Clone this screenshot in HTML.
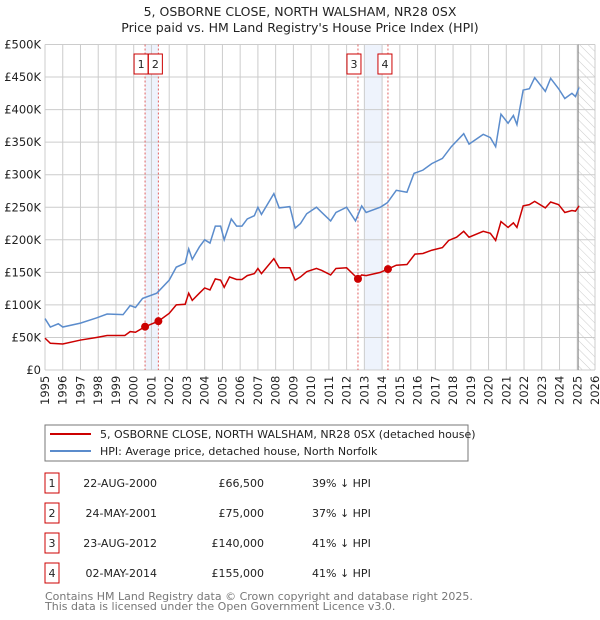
<!DOCTYPE html>
<html><head><meta charset="utf-8"><style>
body{margin:0;background:#fff;}
svg{display:block;font-family:"DejaVu Sans","Liberation Sans",sans-serif;}
</style></head><body>
<svg id="chart" width="600" height="620" viewBox="0 0 600 620">
<defs><pattern id="hatch" width="6" height="6" patternUnits="userSpaceOnUse" patternTransform="rotate(-45)"><line x1="0" y1="0" x2="0" y2="6" stroke="#ccc" stroke-width="1"/></pattern></defs>
<text x="300" y="16" text-anchor="middle" font-size="12.5" fill="#222">5, OSBORNE CLOSE, NORTH WALSHAM, NR28 0SX</text>
<text x="300" y="32" text-anchor="middle" font-size="12.5" fill="#222">Price paid vs. HM Land Registry's House Price Index (HPI)</text>
<g id="plot"></g>
<rect x="45" y="425" width="423" height="36" fill="#fff" stroke="#777"/>
<line x1="50" y1="434" x2="91" y2="434" stroke="#cc0000" stroke-width="2"/>
<text x="100" y="438" font-size="11" fill="#222">5, OSBORNE CLOSE, NORTH WALSHAM, NR28 0SX (detached house)</text>
<line x1="50" y1="451" x2="91" y2="451" stroke="#5b8ccc" stroke-width="2"/>
<text x="100" y="455" font-size="11" fill="#222">HPI: Average price, detached house, North Norfolk</text>
<g id="table" font-size="11" fill="#222"></g>
<text x="45" y="600" font-size="11" fill="#777">Contains HM Land Registry data © Crown copyright and database right 2025.</text>
<text x="45" y="610" font-size="11" fill="#777">This data is licensed under the Open Government Licence v3.0.</text>
</svg>
<script>
const hpiYears=[1995.0,1995.3,1995.75,1996.0,1997.0,1997.9,1998.5,1999.4,1999.8,2000.1,2000.5,2001.3,2002.0,2002.4,2002.9,2003.1,2003.3,2003.7,2004.0,2004.3,2004.6,2004.9,2005.1,2005.5,2005.8,2006.1,2006.4,2006.8,2007.0,2007.2,2007.9,2008.2,2008.8,2009.1,2009.4,2009.75,2010.3,2010.6,2011.1,2011.4,2012.0,2012.5,2012.85,2013.1,2013.9,2014.3,2014.8,2015.4,2015.8,2016.3,2016.8,2017.4,2017.9,2018.6,2018.9,2019.7,2020.1,2020.4,2020.7,2021.1,2021.4,2021.6,2021.95,2022.3,2022.6,2023.2,2023.5,2023.95,2024.3,2024.7,2024.9,2025.1];
const hpiValues=[79,66,71,66,72,80,86,85,99,96,110,118,138,158,164,186,170,189,200,195,221,221,200,232,221,221,232,237,250,239,271,249,251,218,225,240,250,242,229,242,250,229,252,242,250,257,276,273,302,307,317,325,343,363,347,362,357,343,393,379,391,377,430,432,449,428,448,432,417,425,420,434];
const priceYears=[1995.0,1995.3,1996.0,1997.0,1997.9,1998.5,1999.5,1999.8,2000.1,2000.64,2001.39,2002.0,2002.4,2002.9,2003.1,2003.3,2003.7,2004.0,2004.3,2004.6,2004.9,2005.1,2005.4,2005.8,2006.1,2006.4,2006.8,2007.0,2007.2,2007.9,2008.2,2008.8,2009.1,2009.4,2009.75,2010.3,2010.6,2011.1,2011.4,2012.0,2012.64,2012.85,2013.1,2013.9,2014.33,2014.8,2015.4,2015.85,2016.3,2016.8,2017.4,2017.75,2018.2,2018.6,2018.9,2019.7,2020.1,2020.4,2020.7,2021.1,2021.4,2021.6,2021.95,2022.3,2022.6,2023.2,2023.5,2023.95,2024.3,2024.7,2024.9,2025.1];
const priceValues=[49,41,40,46,50,53,53,59,58,66.5,75,87,100,101,118,107,118,126,123,140,138,127,143,139,139,145,148,156,148,171,157,157,138,143,151,156,153,146,156,157,140,146,145,150,155,161,162,178,179,184,188,199,204,213,204,213,210,199,228,219,226,219,252,254,259,249,258,254,242,245,244,252];
const saleYears=[2000.64,2001.39,2012.64,2014.33];
const saleValues=[66.5,75,140,155];
const saleLabels=["1","2","3","4"];
const saleDates=["22-AUG-2000","24-MAY-2001","23-AUG-2012","02-MAY-2014"];
const salePrices=["£66,500","£75,000","£140,000","£155,000"];
const saleDiffs=["39% ↓ HPI","37% ↓ HPI","41% ↓ HPI","41% ↓ HPI"];
const yTicks=[0,50,100,150,200,250,300,350,400,450,500];
const yTickLabels=["£0","£50K","£100K","£150K","£200K","£250K","£300K","£350K","£400K","£450K","£500K"];
const xTicks=[];for(let y=1995;y<=2026;y++)xTicks.push(y);

const X0=45,X1=595,Y0=370,Y1=44.5,YR0=1995,YR1=2026,VMAX=500;
const xs=y=>X0+(y-YR0)/(YR1-YR0)*(X1-X0);
const ys=v=>Y0-v/VMAX*(Y0-Y1);
const NS="http://www.w3.org/2000/svg";
const plot=document.getElementById('plot');
function mk(tag,attrs,parent){const e=document.createElementNS(NS,tag);for(const k in attrs)e.setAttribute(k,attrs[k]);(parent||plot).appendChild(e);return e;}

let s=mk('rect',{x:xs(2000.64),y:Y1,width:xs(2001.39)-xs(2000.64),height:Y0-Y1,fill:'#eef3fc'});


s=mk('rect',{x:xs(2013),y:Y1,width:xs(2014)-xs(2013),height:Y0-Y1,fill:'#eef3fc'});


s=mk('rect',{x:xs(2025),y:Y1,width:X1-xs(2025),height:Y0-Y1,fill:'url(#hatch)'});



xTicks.forEach(t=>{
 const l=mk('line',{x1:xs(t),x2:xs(t),y1:Y1,y2:Y0,stroke:'#ccc','stroke-width':1});
 
 
 const tx=mk('text',{x:0,y:0,transform:`translate(${xs(t)+4},${Y0+35}) rotate(-90)`,'font-size':11.5,fill:'#222'});
 tx.textContent=t;
 
 
});
yTicks.forEach((t,i)=>{
 const l=mk('line',{x1:X0,x2:X1,y1:ys(t),y2:ys(t),stroke:'#ccc','stroke-width':1});
 
 
 const tx=mk('text',{x:X0-4,y:ys(t)+4,'text-anchor':'end','font-size':11.5,fill:'#222'});
 tx.textContent=yTickLabels[i];
 
 
});
let ln=mk('line',{x1:xs(2025.05),x2:xs(2025.05),y1:Y1,y2:Y0,stroke:'#888','stroke-width':1});



saleYears.forEach((y,i)=>{
 const l=mk('line',{x1:xs(y),x2:xs(y),y1:Y1,y2:Y0,stroke:'#e06060','stroke-width':1,'stroke-dasharray':'2,2'});
 
 
});
const boxOff=[-4,-3,-4,-3];
saleYears.forEach((y,i)=>{
 const cx=xs(y)+boxOff[i];
 const r=mk('rect',{x:cx-7,y:54,width:14,height:20,fill:'#fff',stroke:'#cc0000','stroke-width':1});
 
 
 const t=mk('text',{x:cx,y:68,'text-anchor':'middle','font-size':11,fill:'#222'});
 t.textContent=saleLabels[i];
 
 
});

let hp=mk('polyline',{points:hpiYears.map((y,i)=>xs(y)+','+ys(hpiValues[i])).join(' '),fill:'none',stroke:'#5b8ccc','stroke-width':1.5});


let pp=mk('polyline',{points:priceYears.map((y,i)=>xs(y)+','+ys(priceValues[i])).join(' '),fill:'none',stroke:'#cc0000','stroke-width':1.5});


saleYears.forEach((y,i)=>{
 const c=mk('circle',{cx:xs(y),cy:ys(saleValues[i]),r:4,fill:'#cc0000'});
 
 
});

const tb=document.getElementById('table');
const rowY=[483,513,543,573];
saleLabels.forEach((lab,i)=>{
 const y=rowY[i];
 const r=mk('rect',{x:45,y:y-10,width:14,height:20,fill:'#fff',stroke:'#cc0000'},tb);
 
 
 const cells=[[52,'middle',lab],[157,'end',saleDates[i]],[264,'end',salePrices[i]],[312,'start',saleDiffs[i]]];
 cells.forEach(c=>{
  const t=mk('text',{x:c[0],y:y+4,'text-anchor':c[1],'font-size':11,fill:'#222'},tb);
  t.textContent=c[2];
  
  
 });
});
</script>
</body></html>
